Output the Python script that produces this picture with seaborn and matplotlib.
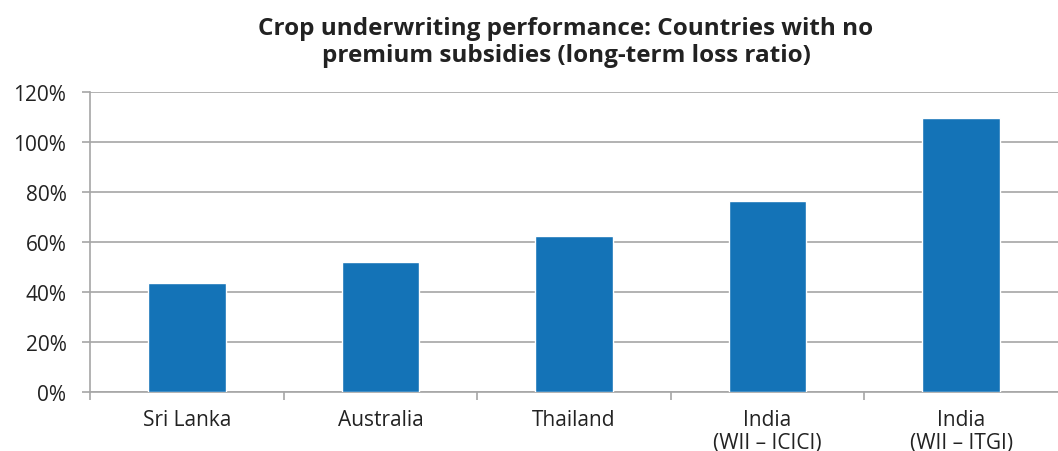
import matplotlib
matplotlib.use("Agg")
import matplotlib.pyplot as plt
import seaborn as sns
import pandas as pd
from matplotlib.ticker import FixedLocator, FuncFormatter

categories = ["Sri Lanka", "Australia", "Thailand", "India\n(WII – ICICI)", "India\n(WII – ITGI)"]
loss_ratio = [43.5, 52.2, 62.6, 76.3, 109.5]
y_ticks = [0, 20, 40, 60, 80, 100, 120]
title = "Crop underwriting performance: Countries with no\npremium subsidies (long-term loss ratio)"

sns.set_theme(style="white")
plt.rcParams['font.family'] = ['Open Sans', 'DejaVu Sans']

df = pd.DataFrame({"category": categories, "value": loss_ratio})

fig = plt.figure(figsize=(10.58, 4.52), dpi=100)
ax = fig.add_axes([90/1058, 1 - 393/452, 1 - 90/1058, 300/452])

sns.barplot(data=df, x="category", y="value", color="#1473b7", saturation=1,
            width=0.4, ax=ax, zorder=3)

ax.set_ylim(0, 120)
ax.set_xlim(-0.5, 4.5)
ax.set_yticks(y_ticks)
ax.yaxis.set_major_formatter(FuncFormatter(lambda v, p: f"{int(v)}%"))
ax.yaxis.grid(True, color="#a6a6a6", linewidth=1.2, zorder=0)
ax.set_axisbelow(True)

for s in ["top", "right"]:
    ax.spines[s].set_visible(False)
for s in ["left", "bottom"]:
    ax.spines[s].set_color("#a6a6a6")
    ax.spines[s].set_linewidth(1.2)

ax.tick_params(axis="y", which="major", length=6, width=1.2, color="#a6a6a6",
               direction="out", pad=11, labelsize=15, labelcolor="#222222", left=True)
ax.tick_params(axis="x", which="major", length=0, pad=12, labelsize=15, labelcolor="#222222")
for lbl in ax.get_xticklabels():
    lbl.set_linespacing(1.15)
ax.xaxis.set_minor_locator(FixedLocator([-0.5, 0.5, 1.5, 2.5, 3.5]))
ax.tick_params(axis="x", which="minor", length=6, width=1.2, color="#a6a6a6",
               direction="out", bottom=True)
ax.set_xlabel("")
ax.set_ylabel("")

ax.set_title(title, fontsize=17.5, fontweight="bold", color="#222222",
             family=["Open Sans", "DejaVu Sans"], pad=22, linespacing=1.2,
             x=0.5 - 8/968)

fig.savefig("out.png", dpi=100)
